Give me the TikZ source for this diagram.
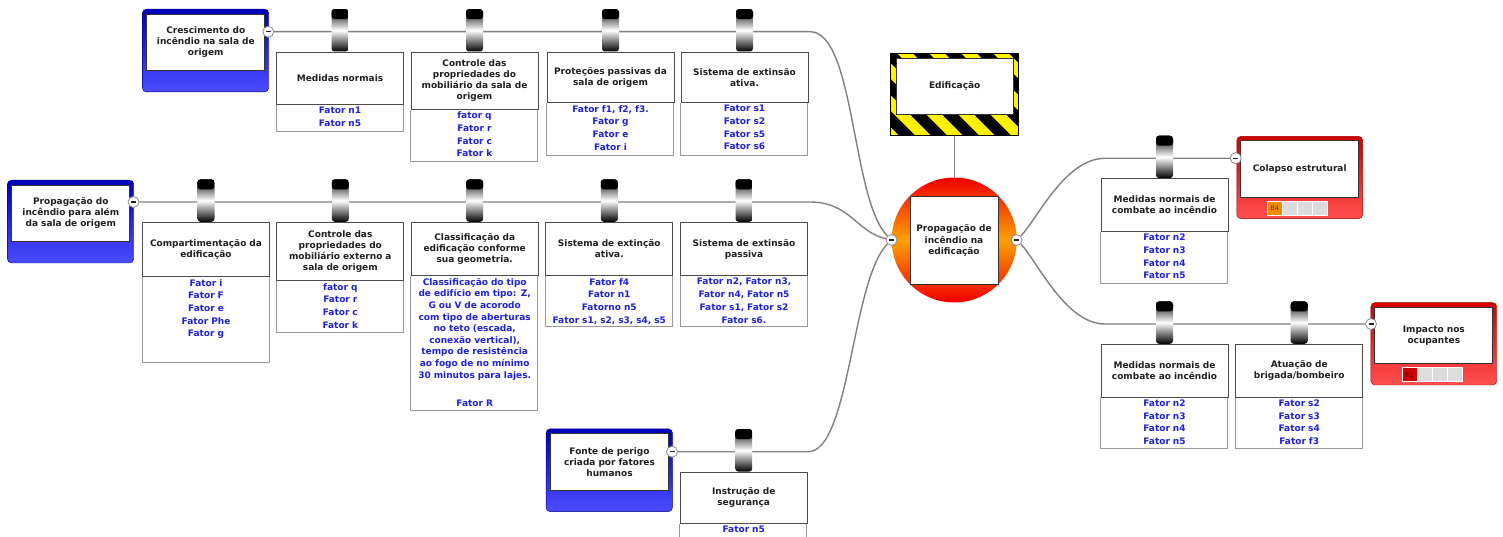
\documentclass[tikz,border=0pt]{standalone}
\usepackage{fontspec}
\setmainfont{DejaVu Sans}
\usetikzlibrary{calc,backgrounds}
\definecolor{factorblue}{HTML}{2020D8}
\definecolor{titleink}{HTML}{202020}
\definecolor{branchgray}{HTML}{808080}
\definecolor{framegray}{HTML}{8C8C8C}
\definecolor{rootblue}{HTML}{0000B8}
\definecolor{rootbluelight}{HTML}{4C4CFF}
\definecolor{rootred}{HTML}{D40000}
\definecolor{rootredlight}{HTML}{FF5050}
\definecolor{hubred}{HTML}{F00000}
\definecolor{huborange}{HTML}{FFA000}
\definecolor{hazardyellow}{HTML}{FFF200}
\definecolor{cellorange}{HTML}{F08A00}
\definecolor{cellred}{HTML}{CC0000}
\definecolor{cellgray}{HTML}{DCDCDC}
\newcommand{\minusbar}{\rule{5pt}{1.3pt}}
\tikzset{
	% ------- every something
	every node/.style={
		font=\fontsize{9}{11}\selectfont\bfseries,
		text=titleink,
	},
	% ------- custom
	branch/.style={
		draw=branchgray,
		line width=1.4pt,
	},
	collapser/.style={
		circle, draw=framegray, fill=white, line width=0.8pt,
		minimum size=11pt, inner sep=0pt,
	},
	hanger/.style={
		top color=black, bottom color=black, middle color=white,
		rounded corners=3pt,
		minimum width=17pt, minimum height=42.4pt, inner sep=0pt,
		anchor=south,
		path picture={
			\fill[black] (path picture bounding box.north west)
				rectangle ([yshift=-10pt]path picture bounding box.north east);
		},
	},
	title box/.style={
		draw=black!70, fill=white, line width=0.8pt,
		minimum width=127pt, text width=122pt, align=center,
		inner sep=0pt, anchor=north,
	},
	factor frame/.style={
		draw=black!40,
		line width=0.8pt,
	},
	factor list/.style={
		text=factorblue, text width=124pt, align=center,
		inner sep=2pt, anchor=north,
		font=\fontsize{9}{12.7}\selectfont\bfseries,
	},
	root box/.style={
		draw=black!80, fill=white, line width=0.8pt,
		minimum width=118pt, minimum height=56.5pt,
		text width=112pt, align=center, inner sep=0pt,
	},
	blue frame/.style={
		rounded corners=4pt, draw=rootblue!70!black,
		top color=rootblue, bottom color=rootbluelight,
	},
	red frame/.style={
		rounded corners=4pt, draw=rootred!70!black,
		top color=rootred, bottom color=rootredlight,
	},
	hub disc/.style={
		circle, minimum size=125pt, inner sep=0pt,
		top color=hubred, bottom color=hubred, middle color=huborange,
	},
	hub box/.style={
		draw=black!80, fill=white, line width=0.8pt,
		minimum size=88pt, text width=84pt, align=center, inner sep=0pt,
		font=\fontsize{9}{11.7}\selectfont\bfseries,
	},
	hazard frame/.style={
		fill=hazardyellow, minimum width=127pt, minimum height=81.7pt,
		inner sep=0pt,
	},
	hazard stripe/.style={
		black,
		line width=11.3pt,
	},
	edif box/.style={
		draw=black!80, fill=white, line width=0.8pt,
		minimum width=117.3pt, minimum height=55.7pt, inner sep=0pt,
	},
	cell/.style={
		draw=white, line width=0.6pt,
		minimum width=15pt, minimum height=14pt, inner sep=0pt,
		font=\fontsize{6.5}{7}\selectfont,
	},
}

\begin{document}
\begin{tikzpicture}[x=1pt, y=-1pt]

% bounding box %{{{1

	\useasboundingbox (0,0) rectangle (1503,537);

% coordinates %{{{1

	\coordinate (r1end) at (810,31.7);
	\coordinate (r2end) at (810,202);
	\coordinate (r3end) at (808,451.7);
	\coordinate (r4start) at (1105,158.3);
	\coordinate (r5start) at (1105,324);

% edificação, hub %{{{1

	\node[hazard frame] (edifframe) at (954.2,94.85) {};
	\begin{scope}
		\clip (edifframe.south west) rectangle (edifframe.north east);
		\foreach \s in {-2,...,7}
			\draw[hazard stripe] ({816.7+32*\s},45) -- ++(160,160);
	\end{scope}
	\draw[line width=0.8pt] (edifframe.south west) rectangle (edifframe.north east);
	\node[edif box] (edificacao) at (954.7,86.2) {Edificação};

	\node[hub disc] (hub) at (954.2,240) {};
	\node[hub box] (propagacao) at (954,240.5) {Propagação de\\incêndio na\\edificação};

% root boxes %{{{1

	\node[root box] (crescimento) at (205.8,42.3) {Crescimento do\\incêndio na sala de\\origem};
	\node[root box] (propagacaoalem) at (70.8,213.3) {Propagação do\\incêndio para além\\da sala de origem};
	\node[root box] (fonteperigo) at (609.5,462) {Fonte de perigo\\criada por fatores\\humanos};
	\node[root box] (colapso) at (1299.7,169) {Colapso estrutural};
	\node[root box] (impacto) at (1433.8,335.3) {Impacto nos\\ocupantes};

% collapse buttons %{{{1

	\node[collapser] (m1) at (268.3,31.7) {\minusbar};
	\node[collapser] (m2) at (133.5,202) {\minusbar};
	\node[collapser] (m3) at (672,451.7) {\minusbar};
	\node[collapser] (m4) at (1235.7,158.3) {\minusbar};
	\node[collapser] (m5) at (1371,324) {\minusbar};
	\node[collapser] (hubin) at (891.5,240) {\minusbar};
	\node[collapser] (hubout) at (1016.7,240) {\minusbar};

% title boxes %{{{1

	\node[title box, minimum height=52.6pt] (a1) at (340,51.7) {Medidas normais};
	\node[title box, minimum height=57.3pt] (a2) at (474.5,51.7) {Controle das\\propriedades do\\mobiliário da sala de\\origem};
	\node[title box, minimum height=50.6pt] (a3) at (610.5,51.7) {Proteções passivas da\\sala de origem};
	\node[title box, minimum height=50.6pt] (a4) at (744.5,51.7) {Sistema de extinsão\\ativa.};

	\node[title box, minimum height=54.3pt] (b1) at (206,222) {Compartimentação da\\edificação};
	\node[title box, minimum height=58.3pt] (b2) at (340.3,222) {Controle das\\propriedades do\\mobiliário externo a\\sala de origem};
	\node[title box, minimum height=53.3pt] (b3) at (474.7,222) {Classificação da\\edificação conforme\\sua geometria.};
	\node[title box, minimum height=53.3pt] (b4) at (609.3,222) {Sistema de extinção\\ativa.};
	\node[title box, minimum height=53.3pt] (b5) at (744,222) {Sistema de extinsão\\passiva};

	\node[title box, minimum height=52.7pt] (c1) at (1164.5,178.3) {Medidas normais de\\combate ao incêndio};
	\node[title box, minimum height=52.7pt] (c2) at (1164.5,344) {Medidas normais de\\combate ao incêndio};
	\node[title box, minimum height=52.7pt] (c3) at (1299.2,344) {Atuação de\\brigada/bombeiro};

	\node[title box, minimum height=51.6pt] (d1) at (743.7,471.7) {Instrução de\\segurança};

% hangers %{{{1

	\foreach \b in {a1,a2,a3,a4,b1,b2,b3,b4,b5,c1,c2,c3,d1}
		\node[hanger] (\b-h) at (\b.north) {};

% factor frames %{{{1

	\foreach \b/\h in {a1/26.4, a2/51.7, a3/52.7, a4/52.7, b1/85.7, b2/51.7, b3/134.3, b4/50.7, b5/50.7, c1/51.3, c2/51, c3/51, d1/40}
		\draw[factor frame] (\b.south west) -- ++(0,\h) -- ++(127,0) -- ++(0,-\h);

% factor lists %{{{1

	\node[factor list] (a1f) at (a1.south) {Fator n1\\Fator n5};
	\node[factor list] (a2f) at (a2.south) {fator q\\Fator r\\Fator c\\Fator k};
	\node[factor list] (a3f) at (a3.south) {Fator f1, f2, f3.\\Fator g\\Fator e\\Fator i};
	\node[factor list] (a4f) at (a4.south) {Fator s1\\Fator s2\\Fator s5\\Fator s6};

	\node[factor list] (b1f) at (b1.south) {Fator i\\Fator F\\Fator e\\Fator Phe\\Fator g};
	\node[factor list] (b2f) at (b2.south) {fator q\\Fator r\\Fator c\\Fator k};
	\node[factor list, font=\fontsize{9}{11.6}\selectfont\bfseries] (b3f) at (b3.south)
		{Classificação do tipo\\de edifício em tipo: Z,\\G ou V de acorodo\\com tipo de aberturas\\no teto (escada,\\conexão vertical),\\tempo de resistência\\ao fogo de no mínimo\\30 minutos para lajes.\\[16.4pt]Fator R};
	\node[factor list] (b4f) at (b4.south) {Fator f4\\Fator n1\\Fatorno n5\\Fator s1, s2, s3, s4, s5};
	\node[factor list] (b5f) at (b5.south) {Fator n2, Fator n3,\\Fator n4, Fator n5\\Fator s1, Fator s2\\Fator s6.};

	\node[factor list] (c1f) at (c1.south) {Fator n2\\Fator n3\\Fator n4\\Fator n5};
	\node[factor list] (c2f) at (c2.south) {Fator n2\\Fator n3\\Fator n4\\Fator n5};
	\node[factor list] (c3f) at (c3.south) {Fator s2\\Fator s3\\Fator s4\\Fator f3};

	\node[factor list] (d1f) at (d1.south) {Fator n5};

% risk cells %{{{1

	\node[cell, fill=cellorange, text=cellorange!40!black] (b4cell) at (1274.7,208) {B4};
	\foreach \i in {1,2,3}
		\node[cell, fill=cellgray] (colapso-\i) at ({1274.7+15*\i},208) {};
	\node[cell, fill=cellred, text=cellred!50!black] (e1cell) at (1409.5,374.7) {E1};
	\foreach \i in {1,2,3}
		\node[cell, fill=cellgray] (impacto-\i) at ({1409.5+15*\i},374.7) {};

% frames, connectors %{{{1

	\begin{scope}[on background layer]
		\fill[white] (0,0) rectangle (1503,537);

		\path[blue frame] ($(crescimento.north west)+(-4,-4.5)$) rectangle ($(crescimento.south east)+(3.5,21)$);
		\path[blue frame] ($(propagacaoalem.north west)+(-4,-4.5)$) rectangle ($(propagacaoalem.south east)+(3.5,21)$);
		\path[blue frame] ($(fonteperigo.north west)+(-4,-4.5)$) rectangle ($(fonteperigo.south east)+(3.5,21)$);
		\path[red frame] ($(colapso.north west)+(-3.5,-4)$) rectangle ($(colapso.south east)+(3.5,21)$);
		\path[red frame] ($(impacto.north west)+(-3.5,-4)$) rectangle ($(impacto.south east)+(3.5,21)$);

		\draw[branch] (m1) -- (r1end) .. controls +(45,0) and +(-40,-40) .. (hubin);
		\draw[branch] (m2) -- (r2end) .. controls +(40,0) and +(-35,-8) .. (hubin);
		\draw[branch] (m3) -- (r3end) .. controls +(42,0) and +(-40,40) .. (hubin);
		\draw[branch] (hubout) .. controls +(20,-20) and +(-40,0) .. (r4start) -- (m4);
		\draw[branch] (hubout) .. controls +(20,20) and +(-40,0) .. (r5start) -- (m5);
		\draw[branch] (edifframe) -- (hub);
	\end{scope}

% closing %{{{1

\end{tikzpicture}
\end{document}
